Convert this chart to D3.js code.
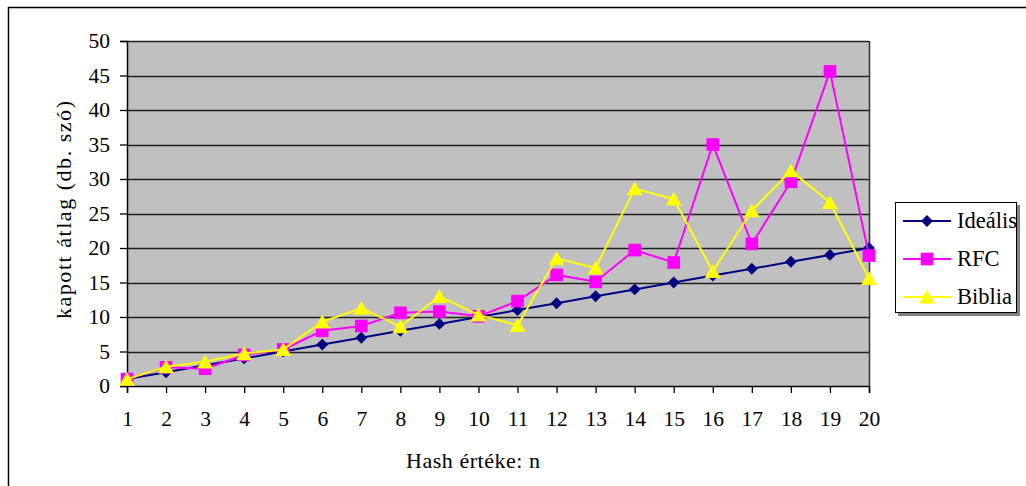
<!DOCTYPE html>
<html>
<head>
<meta charset="utf-8">
<script src="https://cdn.jsdelivr.net/npm/d3@7"></script>
<style>
  html, body { margin: 0; padding: 0; background: #fff; }
  svg { display: block; }
</style>
</head>
<body>
<svg id="chart" width="1026" height="486"></svg>
<script>
const categories = [1,2,3,4,5,6,7,8,9,10,11,12,13,14,15,16,17,18,19,20];
const idealis = [1,2,3,4,5,6,7,8,9,10,11,12,13,14,15,16,17,18,19,20];
const rfc = [1.0,2.7,2.5,4.5,5.3,8.0,8.7,10.6,10.8,10.1,12.3,16.1,15.1,19.7,17.9,35.0,20.6,29.6,45.6,18.9];
const biblia = [1.0,2.8,3.5,4.7,5.3,9.3,11.3,8.6,13.0,10.3,8.8,18.5,17.1,28.6,27.1,16.6,25.4,31.2,26.6,15.6];
const yTicks = [0,5,10,15,20,25,30,35,40,45,50];
const seriesNames = ["Ideális", "RFC", "Biblia"];
const seriesColors = ["#000080", "#ff00ff", "#ffff00"];
const yTitle = "kapott átlag (db. szó)";
const xTitle = "Hash értéke: n";

const FONT = "Liberation Serif";
const svg = d3.select("#chart");
const plot = {left: 127, right: 869, top: 41, bottom: 386};

// outer chart border (cropped on right/bottom)
svg.append("rect").attr("x", 8.5).attr("y", 7.5).attr("width", 1040).attr("height", 500)
  .attr("fill", "#fff").attr("stroke", "#000").attr("stroke-width", 1.5);

const x = d3.scalePoint().domain(categories).range([plot.left, plot.right]);
const y = d3.scaleLinear().domain([0, 50]).range([plot.bottom, plot.top]);

// plot background
svg.append("rect").attr("x", plot.left).attr("y", plot.top)
  .attr("width", plot.right - plot.left).attr("height", plot.bottom - plot.top)
  .attr("fill", "#c0c0c0");

// gridlines
svg.append("g").selectAll("line").data(yTicks.filter(d => d > 0)).join("line")
  .attr("x1", plot.left).attr("x2", plot.right)
  .attr("y1", d => Math.round(y(d)) + 0.5).attr("y2", d => Math.round(y(d)) + 0.5)
  .attr("stroke", "#202020").attr("stroke-width", 1.3);

// plot border right
svg.append("line").attr("x1", plot.right + 0.5).attr("x2", plot.right + 0.5)
  .attr("y1", plot.top).attr("y2", plot.bottom).attr("stroke", "#303030").attr("stroke-width", 1.5);

// y axis
const yAxis = d3.axisLeft(y).tickValues(yTicks).tickSize(7).tickPadding(10).tickFormat(d3.format("d"));
const gy = svg.append("g").attr("transform", `translate(${plot.left},0)`).call(yAxis);
gy.attr("font-family", FONT).attr("font-size", 21);
gy.select(".domain").attr("stroke", "#000").attr("stroke-width", 1.5);
gy.selectAll(".tick line").attr("stroke", "#000").attr("stroke-width", 1.3);
gy.selectAll(".tick text").style("font-size", "21.5px").style("font-family", FONT).attr("fill", "#000");

// x axis
const xAxis = d3.axisBottom(x).tickSize(7).tickPadding(18);
const gx = svg.append("g").attr("transform", `translate(0,${plot.bottom})`).call(xAxis);
gx.attr("font-family", FONT).attr("font-size", 21);
gx.select(".domain").attr("stroke", "#000").attr("stroke-width", 1.5);
gx.selectAll(".tick line").attr("stroke", "#000").attr("stroke-width", 1.3);
gx.selectAll(".tick text").style("font-size", "21.5px").style("font-family", FONT).attr("fill", "#000");

// axis titles
svg.append("text").attr("x", 473).attr("y", 468).attr("text-anchor", "middle")
  .style("font-size", "22px").style("font-family", FONT)
  .attr("textLength", 134).attr("lengthAdjust", "spacing").text(xTitle);
svg.append("text").attr("transform", "translate(71,210) rotate(-90)").attr("text-anchor", "middle")
  .style("font-size", "22px").style("font-family", FONT)
  .attr("textLength", 218).attr("lengthAdjust", "spacing").text(yTitle);

// markers
const symbols = [
  d3.symbol().type(d3.symbolDiamond2).size(90),
  d3.symbol().type(d3.symbolSquare).size(160),
  d3.symbol().type(d3.symbolTriangle).size(110)
];
const data = [idealis, rfc, biblia];
const line = d3.line().x((d, i) => x(categories[i])).y(d => y(d));

data.forEach((vals, s) => {
  const g = svg.append("g");
  g.append("path").datum(vals).attr("d", line).attr("fill", "none")
    .attr("stroke", seriesColors[s]).attr("stroke-width", 2);
  g.selectAll("path.m").data(vals).join("path").attr("class", "m")
    .attr("transform", (d, i) => {
      const dy = s === 2 ? 2 : 0;
      return `translate(${x(categories[i])},${y(d) + dy})`;
    })
    .attr("d", symbols[s]())
    .attr("fill", seriesColors[s]);
});

// legend
const lg = svg.append("g");
lg.append("rect").attr("x", 898).attr("y", 205).attr("width", 122).attr("height", 111).attr("fill", "#808080");
lg.append("rect").attr("x", 895.5).attr("y", 202.5).attr("width", 121).attr("height", 110)
  .attr("fill", "#fff").attr("stroke", "#000").attr("stroke-width", 1);
const legY = [221, 259, 297];
seriesNames.forEach((name, s) => {
  lg.append("line").attr("x1", 903).attr("x2", 951).attr("y1", legY[s]).attr("y2", legY[s])
    .attr("stroke", seriesColors[s]).attr("stroke-width", 2);
  lg.append("path").attr("transform", `translate(927,${legY[s] + (s === 2 ? 2 : 0)})`)
    .attr("d", symbols[s]()).attr("fill", seriesColors[s]);
  lg.append("text").attr("x", 957).attr("y", legY[s] + 7)
    .style("font-size", "22.5px").style("font-family", FONT).attr("fill", "#000").text(name);
});
</script>
</body>
</html>
